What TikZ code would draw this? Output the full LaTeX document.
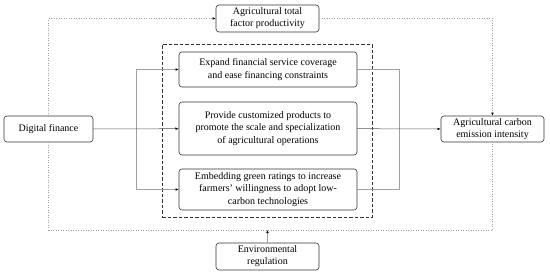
\documentclass[tikz,border=0pt]{standalone}
\usepackage{fontspec}
\setmainfont{Liberation Serif}
\usetikzlibrary{arrows.meta,positioning}
\definecolor{BoxEdge}{HTML}{333333}
\definecolor{LinkGray}{HTML}{A0A0A0}
\definecolor{MainLink}{HTML}{555555}

\begin{document}
\begin{tikzpicture}[
  x=1pt,y=-1pt,
  caja/.style={rectangle,rounded corners=3pt,draw=BoxEdge,line width=0.6pt,
    align=center,font=\fontsize{10}{12.2}\selectfont,inner sep=1pt},
  marco/.style={rectangle,draw=BoxEdge,dash pattern=on 3.5pt off 2pt,line width=0.6pt,inner sep=0pt},
  flecha/.style={-{Latex[length=3.2pt,width=2.6pt,color=black]},line width=0.5pt,draw=MainLink},
  rama/.style={line width=0.5pt,draw=LinkGray},
  punteada/.style={dotted,line width=0.5pt,draw=LinkGray}
]
\useasboundingbox (0,0) rectangle (550,276);
\node[marco,minimum width=210pt,minimum height=173pt] (marco) at (267,130.5) {};
\node[caja,minimum width=103pt,minimum height=27pt] (tfp) at (267.5,18.5) {Agricultural total\\factor productivity};
\node[caja,minimum width=178pt,minimum height=35pt] (expand) at (268,69.5) {Expand financial service coverage\\and ease financing constraints};
\node[caja,minimum width=178pt,minimum height=53pt] (provide) at (268,128.5) {Provide customized products to\\promote the scale and specialization\\of agricultural operations};
\node[caja,minimum width=178pt,minimum height=41pt] (embed) at (268,189.5) {Embedding green ratings to increase\\farmers’ willingness to adopt low-\\carbon technologies};
\node[caja,minimum width=89pt,minimum height=26pt] (digital) at (48.5,129) {Digital finance};
\node[caja,minimum width=103pt,minimum height=26pt] (carbon) at (492.5,129) {Agricultural carbon\\emission intensity};
\node[caja,minimum width=103pt,minimum height=27pt] (envreg) at (267.5,256.5) {Environmental\\regulation};
\coordinate (splitT) at (136,69.5);
\coordinate (splitB) at (136,189.5);
\coordinate (joinT) at (399,69.5);
\coordinate (joinB) at (399,189.5);
\coordinate (lowR) at (492.5,230);
\coordinate (envHit) at (267.5,230);
\draw[rama] (splitT) -- (splitB);
\draw[rama] (expand.east) -- (joinT) -- (joinB) -- (embed.east);
\foreach \a/\b in {digital/provide,provide/carbon}
  \draw[flecha] (\a) -- (\b);
\foreach \a/\b in {splitT/expand,splitB/embed}
  \draw[flecha,draw=LinkGray] (\a) -- (\b);
\draw[flecha,draw=LinkGray] (envreg) -- (envHit);
\draw[punteada,flecha,draw=LinkGray] (digital.north) |- (tfp.west);
\draw[punteada,flecha,draw=LinkGray] (tfp.east) -| (carbon.north);
\draw[punteada] (digital.south) |- (lowR) -- (carbon.south);
\end{tikzpicture}
\end{document}
